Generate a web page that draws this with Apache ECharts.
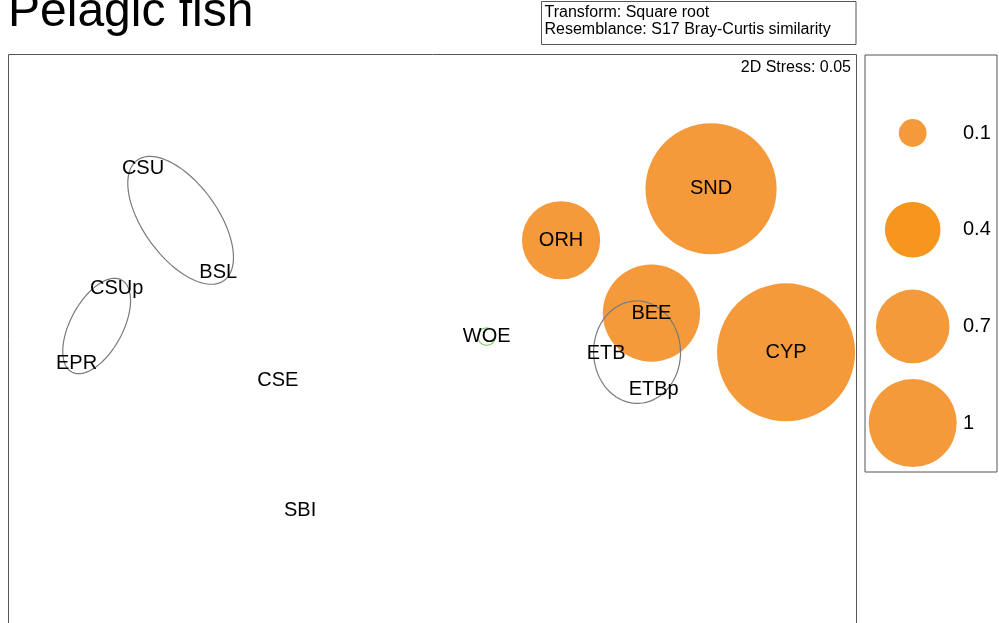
<!DOCTYPE html>
<html>
<head>
<meta charset="utf-8">
<script src="https://cdn.jsdelivr.net/npm/echarts@6/dist/echarts.min.js"></script>
<style>
html,body{margin:0;padding:0;background:#fff;}
#chart{width:999px;height:623px;}
</style>
</head>
<body>
<div id="chart"></div>
<script>
// ---- data ----
const titleText = 'Pelagic fish';
const infoLines = ['Transform: Square root', 'Resemblance: S17 Bray-Curtis similarity'];
const stressText = '2D Stress: 0.05';
const sampleNames = ['CSU','BSL','CSUp','EPR','CSE','SBI','WOE','ETB','ETBp','BEE','ORH','SND','CYP'];
const mdsX = [-1.432,-1.060,-1.562,-1.761,-0.765,-0.655,0.268,0.859,1.094,1.083,0.636,1.378,1.749];
const mdsY = [0.934,0.419,0.338,-0.031,-0.116,-0.760,0.101,0.018,-0.163,0.217,0.578,0.833,0.023];
const bubbleValues = [0,0,0,0,0,0,0.04,0,0,1.22,0.79,2.22,2.46];
const hollowSamples = ['WOE'];
const legendValues = [0.1,0.4,0.7,1];
const legendLabels = ['0.1','0.4','0.7','1'];
const clusterGroups = [['CSU','BSL'],['CSUp','EPR'],['ETB','ETBp','BEE']];

// ---- styling ----
const FONT = '"Liberation Sans", Arial, Helvetica, sans-serif';
const ORANGE = '#F59A3B';
const ORANGE_DARK = '#F7961E';
const SIZE_K = 88; // diameter for value 1 (area proportional)

const chart = echarts.init(document.getElementById('chart'), null, {renderer:'canvas'});

const bubbleData = [];
sampleNames.forEach((n,i)=>{
  if (bubbleValues[i] > 0) {
    const hollow = hollowSamples.indexOf(n) >= 0;
    bubbleData.push({
      name: n,
      value: [mdsX[i], mdsY[i], bubbleValues[i]],
      itemStyle: hollow ? {color:'rgba(0,0,0,0)', borderColor:'#7DCB6C', borderWidth:1.2, opacity:1}
                        : {color: ORANGE, opacity:1}
    });
  }
});

const labelData = sampleNames.map((n,i)=>({name:n, value:[mdsX[i], mdsY[i]]}));

function ellipseFor(group, api){
  const pts = group.map(n=>{
    const j = sampleNames.indexOf(n);
    return api.coord([mdsX[j], mdsY[j]]);
  });
  let cx=0, cy=0;
  pts.forEach(p=>{cx+=p[0]; cy+=p[1];});
  cx/=pts.length; cy/=pts.length;
  let sxx=0, syy=0, sxy=0;
  pts.forEach(p=>{const dx=p[0]-cx, dy=p[1]-cy; sxx+=dx*dx; syy+=dy*dy; sxy+=dx*dy;});
  const th = 0.5*Math.atan2(2*sxy, sxx-syy);
  const ux=Math.cos(th), uy=Math.sin(th), vx=-uy, vy=ux;
  let pa=0, pb=0;
  pts.forEach(p=>{
    const dx=p[0]-cx, dy=p[1]-cy;
    pa=Math.max(pa, Math.abs(dx*ux+dy*uy));
    pb=Math.max(pb, Math.abs(dx*vx+dy*vy));
  });
  const pad = pts.length > 2 ? 12.5 : 10;
  const a = pa + pad;
  const b = Math.max(pb + pad, 0.5*a);
  const out = [];
  const N = 120;
  for (let k=0;k<N;k++){
    const t = 2*Math.PI*k/N;
    const ca=a*Math.cos(t), sb=b*Math.sin(t);
    out.push([cx + ca*ux + sb*vx, cy + ca*uy + sb*vy]);
  }
  return out;
}

const legendCircleX = 47.7, legendTextX = 98;

const option = {
  animation: false,
  backgroundColor: '#fff',
  textStyle: {fontFamily: FONT},
  grid: [
    {left: 8, top: 54, width: 849, height: 569, show: false},
    {left: 865, top: 55, width: 132, height: 417, show: true, borderColor: '#555', borderWidth: 1, backgroundColor: 'rgba(0,0,0,0)'}
  ],
  xAxis: [
    {gridIndex:0, type:'value', min:-2.1, max:2.1, show:false},
    {gridIndex:1, type:'value', min:0, max:132, show:false}
  ],
  yAxis: [
    {gridIndex:0, type:'value', min:-1.31683, max:1.5, show:false},
    {gridIndex:1, type:'value', min:-0.807, max:3.506, inverse:true, show:false}
  ],
  graphic: [
    {type:'rect', z:1, shape:{x:8.5, y:54.5, width:848, height:620}, style:{fill:'none', stroke:'#555', lineWidth:1}},
    {type:'text', left: 8, top: -11, style:{text:titleText, font:'48px '+FONT, fill:'#000'}},
    {type:'rect', shape:{x:541.5, y:1.5, width:314.5, height:43}, style:{fill:'#fff', stroke:'#555', lineWidth:1}},
    {type:'text', x:544.5, y:12.8, style:{text:infoLines[0], font:'16px '+FONT, fill:'#000', verticalAlign:'middle'}},
    {type:'text', x:544.5, y:29.8, style:{text:infoLines[1], font:'16px '+FONT, fill:'#000', verticalAlign:'middle'}},
    {type:'text', x:851, y:68, style:{text:stressText, font:'16px '+FONT, fill:'#000', align:'right', verticalAlign:'middle'}}
  ],
  series: [
    {
      type:'scatter', xAxisIndex:0, yAxisIndex:0, z:2,
      data: bubbleData,
      symbol:'circle',
      symbolSize: v => SIZE_K*Math.sqrt(v[2]),
      label:{show:false},
      emphasis:{disabled:true}
    },
    {
      type:'custom', xAxisIndex:0, yAxisIndex:0, z:3,
      data: clusterGroups.map((g,i)=>[i, 0]),
      renderItem: (params, api) => {
        const g = clusterGroups[api.value(0)];
        return {type:'polygon', shape:{points: ellipseFor(g, api)}, style:{fill:'none', stroke:'#7a7a7a', lineWidth:1.2}};
      },
      silent:true
    },
    {
      type:'scatter', xAxisIndex:0, yAxisIndex:0, z:4,
      data: labelData,
      symbolSize: 1,
      itemStyle:{color:'rgba(0,0,0,0)', opacity:1},
      label:{show:true, position:'inside', formatter:p=>p.name, fontSize:20, color:'#000', opacity:1, fontFamily:FONT},
      emphasis:{disabled:true}
    },
    {
      type:'scatter', xAxisIndex:1, yAxisIndex:1, z:2,
      data: legendValues.map((v,i)=>({value:[legendCircleX, i, v], itemStyle:{color: i===1 ? ORANGE_DARK : ORANGE, opacity:1}})),
      symbolSize: v => SIZE_K*Math.sqrt(v[2]),
      emphasis:{disabled:true}
    },
    {
      type:'scatter', xAxisIndex:1, yAxisIndex:1, z:4,
      data: legendLabels.map((t,i)=>({name:t, value:[legendTextX, i]})),
      symbolSize: 0,
      itemStyle:{color:'rgba(0,0,0,0)', opacity:1},
      label:{show:true, position:'right', distance:0, formatter:p=>p.name, fontSize:20, color:'#000', opacity:1, fontFamily:FONT},
      emphasis:{disabled:true}
    }
  ]
};
chart.setOption(option);
</script>
</body>
</html>
